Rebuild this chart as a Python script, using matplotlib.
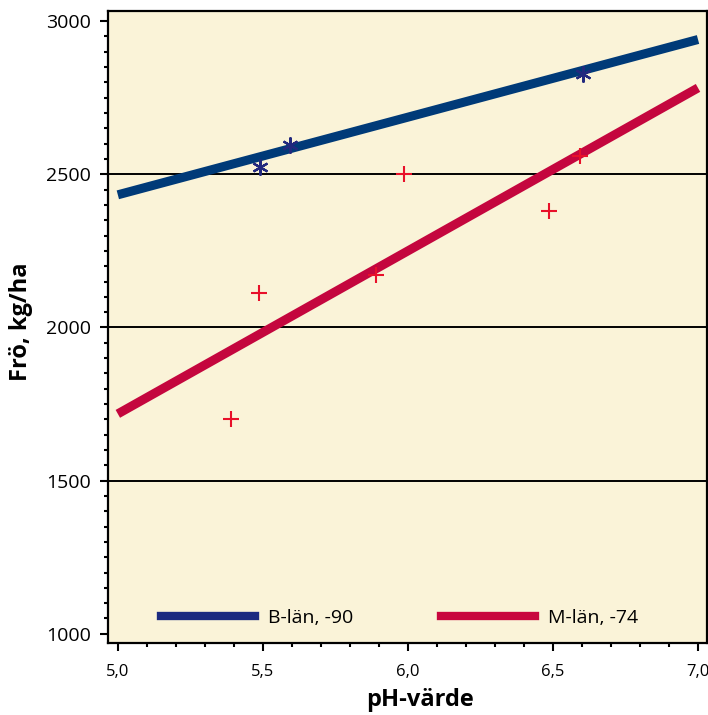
import matplotlib.pyplot as plt
from matplotlib.lines import Line2D
from matplotlib.ticker import MultipleLocator
import numpy as np

plt.rcParams['font.family'] = ['Open Sans', 'DejaVu Sans']

# fitted regression lines (end points)
fit_x = [5.0, 7.0]
b_fit = [2433, 2940]
m_fit = [1718, 2782]

# observations
b_ph = [5.49, 5.595, 6.605]
b_yield = [2524, 2595, 2826]
m_ph = [5.39, 5.487, 5.89, 5.987, 6.487, 6.593]
m_yield = [1702, 2113, 2170, 2500, 2380, 2560]

labels = ['B-län, -90', 'M-län, -74']
grid_levels = [1500, 2000, 2500]

fig = plt.figure(figsize=(7.08, 7.15), dpi=100)
ax = fig.add_axes([0.1525, 0.1007, 0.8461, 0.8839])
ax.set_facecolor('#faf3d8')

for g in grid_levels:
    ax.axhline(g, color='black', lw=1.4, zorder=1)

ax.plot(fit_x, b_fit, color='#003a78', lw=6.5, solid_capstyle='butt', zorder=2)
ax.plot(fit_x, m_fit, color='#c4063e', lw=6.5, solid_capstyle='butt', zorder=2)
ax.plot(b_ph, b_yield, ls='none', marker=(6, 2, 0), ms=11.5, mew=1.6,
        color='#22287e', zorder=3)
ax.plot(m_ph, m_yield, ls='none', marker='+', ms=12, mew=1.5,
        color='#e8102a', zorder=3)

ax.set_xlim(4.966, 7.031)
ax.set_ylim(970, 3033)
ax.xaxis.set_major_locator(MultipleLocator(0.5))
ax.xaxis.set_minor_locator(MultipleLocator(0.1))
ax.yaxis.set_major_locator(MultipleLocator(500))
ax.yaxis.set_minor_locator(MultipleLocator(50))
ax.set_xticks(ax.get_xticks())
ax.set_xticklabels([f'{v:.1f}'.replace('.', ',') for v in ax.get_xticks()])
ax.set_xlim(4.966, 7.031)

ax.tick_params(axis='both', which='major', length=6, width=1.5, direction='out', color='black')
ax.tick_params(axis='both', which='minor', length=3, width=1.5, direction='out')
ax.tick_params(axis='y', labelsize=14, pad=6)
ax.tick_params(axis='x', labelsize=12, pad=9)
for s in ax.spines.values():
    s.set_linewidth(1.6)

fig.text(0.03, 0.55, 'Frö, kg/ha', rotation=90, fontsize=17, fontweight='bold',
         ha='center', va='center')
fig.text(0.593, 0.012, 'pH-värde', fontsize=17, fontweight='bold',
         ha='center', va='baseline')

handles = [Line2D([], [], color='#1b2a80', lw=6),
           Line2D([], [], color='#c8063e', lw=6)]
ax.legend(handles, labels, loc='center left', bbox_to_anchor=(0.0885, 0.0396),
          frameon=False, ncol=2, fontsize=14, handlelength=4.85,
          handletextpad=0.65, columnspacing=4.5, borderpad=0, borderaxespad=0)

fig.savefig('out.png', dpi=100)
